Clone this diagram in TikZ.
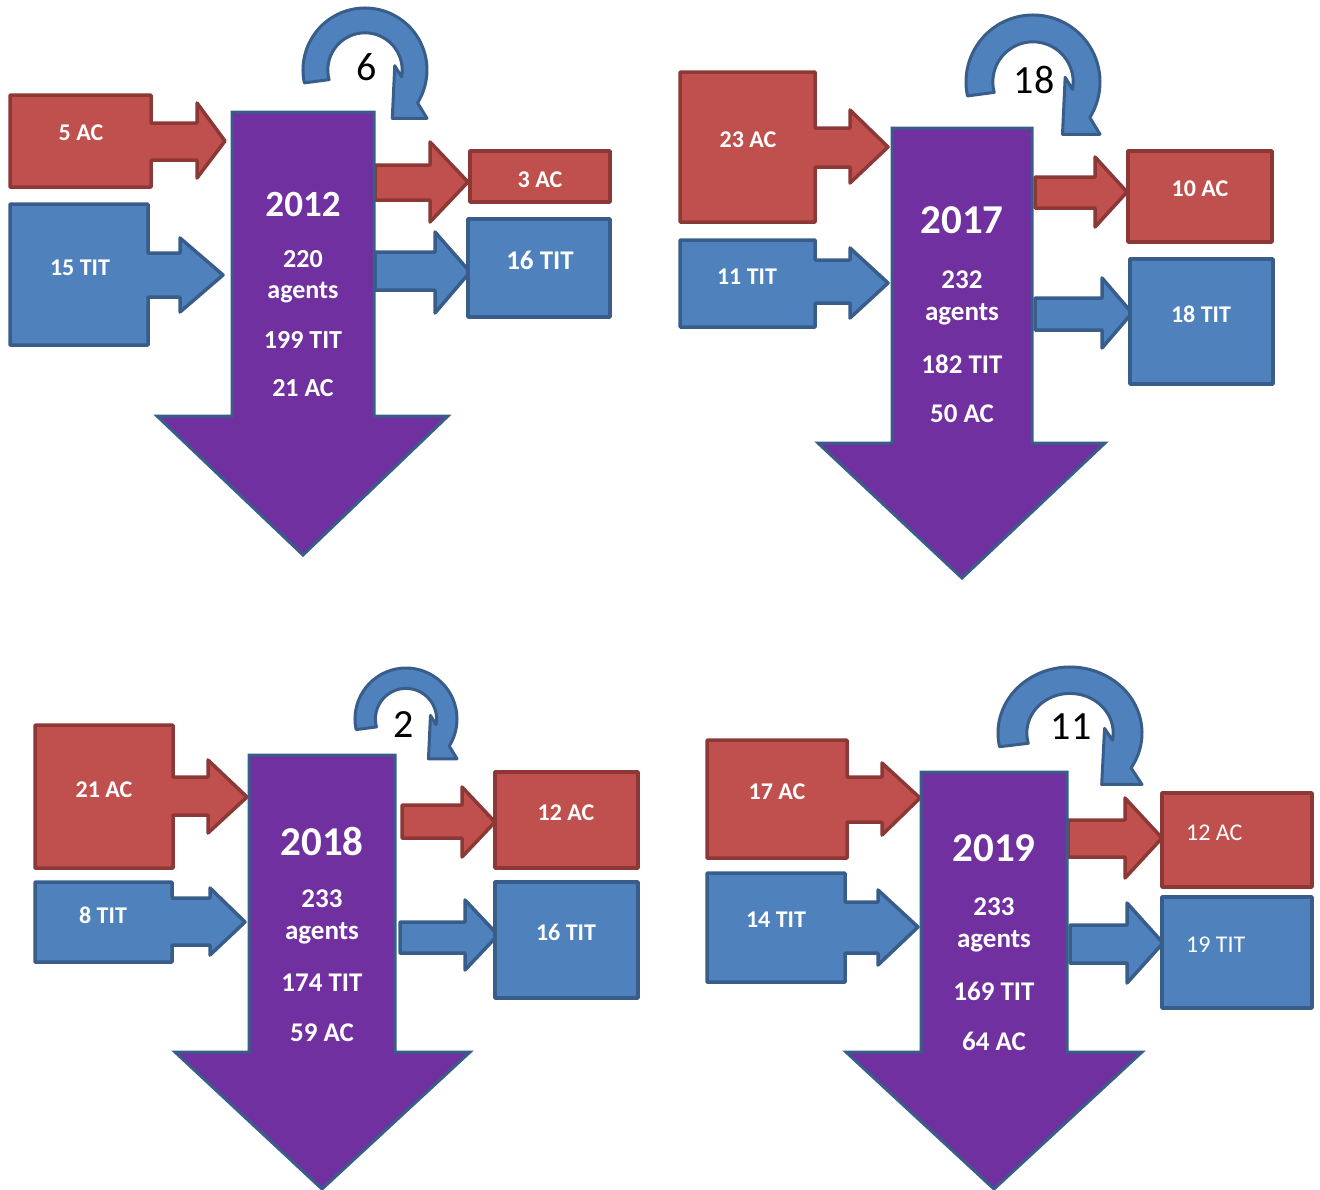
\documentclass[tikz,border=0pt]{standalone}
\usepackage{fontspec}
\setmainfont{Carlito}
\definecolor{acred}{HTML}{C0504D}
\definecolor{acredline}{HTML}{8C3836}
\definecolor{titblue}{HTML}{4F81BD}
\definecolor{titblueline}{HTML}{385D8A}
\definecolor{yearpurple}{HTML}{7030A0}
\tikzset{
	acshape/.style={fill=acred, draw=acredline, line width=3.5pt, line join=round},
	titshape/.style={fill=titblue, draw=titblueline, line width=3.5pt, line join=round},
	yearshape/.style={fill=yearpurple, draw=titblueline, line width=3pt},
	loopshape/.style={fill=titblue, draw=titblueline, line width=3pt, line join=round},
	lbl/.style={text=white, font=\bfseries\fontsize{24}{28}\selectfont},
	lblthin/.style={text=white, font=\fontsize{24}{28}\selectfont, anchor=west, inner sep=0pt},
	yearlbl/.style={text=white, font=\bfseries\fontsize{41}{48}\selectfont},
	infolbl/.style={text=white, font=\bfseries\fontsize{27}{32}\selectfont},
	looplbl/.style={text=black, font=\fontsize{40}{46}\selectfont}
}
% circular arrow: centre x, centre y, x radius, y radius
\newcommand{\turnarrow}[4]{%
	\begin{scope}[shift={(#1,#2)}, xscale=#3, yscale=-#4]
	\draw[loopshape] (192:1) arc[start angle=192, end angle=-32, radius=1] -- (1.0,-0.78) -- (0.44,-0.78) -- (0.48,0.07) -- (-10.6:0.6) arc[start angle=-10.6, end angle=195, radius=0.6] -- cycle;
	\end{scope}}

\begin{document}
\begin{tikzpicture}[x=1pt, y=-1pt]
	\useasboundingbox (0,0) rectangle (1320,1189);
	% 2012
	\draw[acshape] (10,95) -- (151,95) -- (151,123) -- (197,123) -- (197,103) -- (225,141) -- (197,178) -- (197,160) -- (151,160) -- (151,187) -- (10,187) -- cycle;
	\draw[titshape] (10,204) -- (148,204) -- (148,253) -- (180,253) -- (180,238) -- (223,275) -- (180,312) -- (180,297) -- (148,297) -- (148,345) -- (10,345) -- cycle;
	\draw[acshape] (375,165) -- (430,165) -- (430,142) -- (468,182) -- (430,222) -- (430,200) -- (375,200) -- cycle;
	\draw[titshape] (375,252) -- (435,252) -- (435,232) -- (470,272) -- (435,313) -- (435,290) -- (375,290) -- cycle;
	\draw[acshape] (470,151) rectangle (610,202);
	\draw[titshape] (468,219) rectangle (610,317);
	\draw[yearshape] (232,112) -- (374,112) -- (374,416) -- (448,416) -- (303,555) -- (157,416) -- (232,416) -- cycle;
	\turnarrow{365}{70}{62}{62}
	\node[lbl] (in12a) at (81,133) {5 AC};
	\node[lbl] (in12t) at (80,268) {15 TIT};
	\node[lbl] (out12a) at (540,180) {3 AC};
	\node[lbl, font=\bfseries\fontsize{27}{32}\selectfont] (out12t) at (540,260) {16 TIT};
	\node[looplbl] (stay12) at (367,67) {6};
	\node[yearlbl, font=\bfseries\fontsize{37}{44}\selectfont] (y12) at (303,204) {2012};
	\node[infolbl, font=\bfseries\fontsize{26}{30}\selectfont] (n12) at (303,259) {220};
	\node[infolbl, font=\bfseries\fontsize{26}{30}\selectfont] (g12) at (303,292) {agents};
	\node[infolbl, font=\bfseries\fontsize{26}{30}\selectfont] (t12) at (303,340) {199 TIT};
	\node[infolbl, font=\bfseries\fontsize{26}{30}\selectfont] (a12) at (303,388) {21 AC};
	% 2017
	\draw[acshape] (680,72) -- (815,72) -- (815,128) -- (850,128) -- (850,110) -- (888,147) -- (850,183) -- (850,167) -- (815,167) -- (815,222) -- (680,222) -- cycle;
	\draw[titshape] (680,240) -- (815,240) -- (815,260) -- (850,260) -- (850,248) -- (888,283) -- (850,318) -- (850,303) -- (815,303) -- (815,327) -- (680,327) -- cycle;
	\draw[acshape] (1035,177) -- (1095,177) -- (1095,157) -- (1127,192) -- (1095,227) -- (1095,208) -- (1035,208) -- cycle;
	\draw[titshape] (1035,298) -- (1102,298) -- (1102,278) -- (1132,313) -- (1102,348) -- (1102,330) -- (1035,330) -- cycle;
	\draw[acshape] (1128,151) rectangle (1272,242);
	\draw[titshape] (1130,259) rectangle (1273,384);
	\draw[yearshape] (892,128) -- (1032,128) -- (1032,443) -- (1105,443) -- (962,578) -- (818,443) -- (892,443) -- cycle;
	\turnarrow{1033}{82}{67}{67}
	\node[lbl] (in17a) at (748,140) {23 AC};
	\node[lbl] (in17t) at (747,277) {11 TIT};
	\node[lbl] (out17a) at (1200,189) {10 AC};
	\node[lbl] (out17t) at (1201,314) {18 TIT};
	\node[looplbl] (stay17) at (1034,80) {18};
	\node[yearlbl] (y17) at (962,220) {2017};
	\node[infolbl] (n17) at (962,280) {232};
	\node[infolbl] (g17) at (962,314) {agents};
	\node[infolbl] (t17) at (962,364) {182 TIT};
	\node[infolbl] (a17) at (962,414) {50 AC};
	% 2018
	\draw[acshape] (35,725) -- (173,725) -- (173,777) -- (208,777) -- (208,760) -- (247,797) -- (208,833) -- (208,815) -- (173,815) -- (173,868) -- (35,868) -- cycle;
	\draw[titshape] (35,882) -- (172,882) -- (172,898) -- (210,898) -- (210,888) -- (245,922) -- (210,955) -- (210,945) -- (172,945) -- (172,962) -- (35,962) -- cycle;
	\draw[acshape] (402,805) -- (462,805) -- (462,787) -- (495,822) -- (462,857) -- (462,838) -- (402,838) -- cycle;
	\draw[titshape] (400,922) -- (465,922) -- (465,900) -- (498,935) -- (465,970) -- (465,953) -- (400,953) -- cycle;
	\draw[acshape] (495,772) rectangle (638,868);
	\draw[titshape] (495,882) rectangle (638,998);
	\draw[yearshape] (249,755) -- (395,755) -- (395,1052) -- (470,1052) -- (322,1189) -- (175,1052) -- (249,1052) -- cycle;
	\turnarrow{406}{719}{51}{51}
	\node[lbl] (in18a) at (104,790) {21 AC};
	\node[lbl] (in18t) at (103,915) {8 TIT};
	\node[lbl] (out18a) at (566,813) {12 AC};
	\node[lbl] (out18t) at (566,932) {16 TIT};
	\node[looplbl] (stay18) at (404,725) {2};
	\node[yearlbl] (y18) at (322,841) {2018};
	\node[infolbl] (n18) at (322,899) {233};
	\node[infolbl] (g18) at (322,933) {agents};
	\node[infolbl] (t18) at (322,983) {174 TIT};
	\node[infolbl] (a18) at (322,1033) {59 AC};
	% 2019
	\draw[acshape] (707,740) -- (847,740) -- (847,777) -- (882,777) -- (882,763) -- (920,798) -- (882,835) -- (882,822) -- (847,822) -- (847,858) -- (707,858) -- cycle;
	\draw[titshape] (707,873) -- (845,873) -- (845,902) -- (878,902) -- (878,890) -- (918,927) -- (878,965) -- (878,953) -- (845,953) -- (845,982) -- (707,982) -- cycle;
	\draw[acshape] (1068,820) -- (1125,820) -- (1125,798) -- (1162,838) -- (1125,878) -- (1125,857) -- (1068,857) -- cycle;
	\draw[titshape] (1070,925) -- (1127,925) -- (1127,903) -- (1163,943) -- (1127,983) -- (1127,963) -- (1070,963) -- cycle;
	\draw[acshape] (1162,793) rectangle (1312,887);
	\draw[titshape] (1162,897) rectangle (1312,1008);
	\draw[yearshape] (921,772) -- (1067,772) -- (1067,1052) -- (1142,1052) -- (994,1189) -- (846,1052) -- (921,1052) -- cycle;
	\turnarrow{1070}{733}{72}{66}
	\node[lbl] (in19a) at (777,792) {17 AC};
	\node[lbl] (in19t) at (776,920) {14 TIT};
	\node[lblthin] (out19a) at (1186,833) {12 AC};
	\node[lblthin] (out19t) at (1186,945) {19 TIT};
	\node[looplbl] (stay19) at (1071,727) {11};
	\node[yearlbl] (y19) at (994,848) {2019};
	\node[infolbl] (n19) at (994,907) {233};
	\node[infolbl] (g19) at (994,941) {agents};
	\node[infolbl] (t19) at (994,991) {169 TIT};
	\node[infolbl] (a19) at (994,1041) {64 AC};
\end{tikzpicture}
\end{document}
